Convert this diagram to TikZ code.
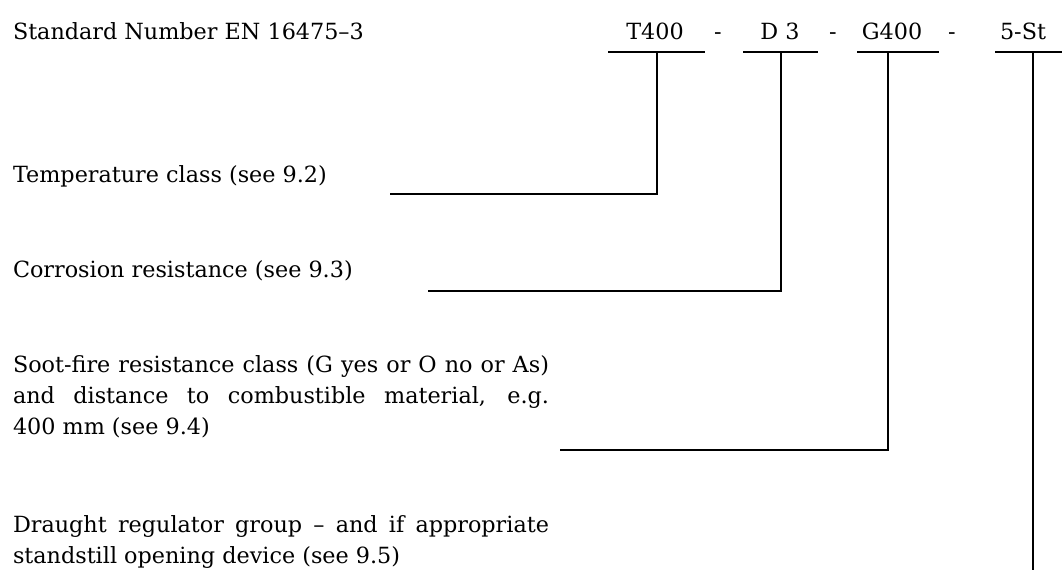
\documentclass[tikz,border=0pt]{standalone}
\usepackage{fontspec}
\setmainfont{DejaVu Serif}
\begin{document}
\begin{tikzpicture}[x=1pt,y=-1pt,
  txt/.style={inner sep=0pt, outer sep=0pt, font=\fontsize{22.3}{31}\selectfont},
  para/.style={txt, text width=536pt, align=justify},
  code/.style={txt, anchor=base},
  rule/.style={line width=2pt},
  leader/.style={line width=2pt}]
\useasboundingbox[fill=white] (0,0) rectangle (1062,570);

% designation string
\node[txt, anchor=base west] (title) at (13,39) {Standard Number EN 16475--3};
\node[code] (t400) at (655,39) {T400};
\node[code] (dash1) at (718,39) {-};
\node[code] (d3) at (780,39) {D 3};
\node[code] (dash2) at (833,39) {-};
\node[code] (g400) at (892,39) {G400};
\node[code] (dash3) at (952,39) {-};
\node[code] (st) at (1023,39) {5-St};

% explanations
\node[txt, anchor=base west] (temp) at (13,182) {Temperature class (see 9.2)};
\node[txt, anchor=base west] (corr) at (13,277) {Corrosion resistance (see 9.3)};
\node[para, anchor=base west] (soot) at (13,372)
  {Soot-fire resistance class (G yes or O no or As)\linebreak
   and distance to combustible material, e.g.\linebreak
   400~mm (see~9.4)};
\node[para, anchor=base west] (draught) at (13,532)
  {Draught regulator group -- and if appropriate\linebreak
   standstill opening device (see~9.5)};

% underlines below each part of the designation
\coordinate (tL) at (608,52);  \coordinate (tR) at (705,52);  \coordinate (tJ) at (657,52);
\coordinate (dL) at (743,52);  \coordinate (dR) at (818,52);  \coordinate (dJ) at (781,52);
\coordinate (gL) at (857,52);  \coordinate (gR) at (939,52);  \coordinate (gJ) at (888,52);
\coordinate (sL) at (995,52);  \coordinate (sR) at (1062,52); \coordinate (sJ) at (1033,52);
\draw[rule] (tL) -- (tR);
\draw[rule] (dL) -- (dR);
\draw[rule] (gL) -- (gR);
\draw[rule] (sL) -- (sR);

% leaders down to the explanations
\coordinate (tE) at (390,194);
\coordinate (dE) at (428,291);
\coordinate (gE) at (560,450);
\coordinate (sE) at (1033,570);
\draw[leader] (tJ) |- (tE);
\draw[leader] (dJ) |- (dE);
\draw[leader] (gJ) |- (gE);
\draw[leader] (sJ) -- (sE);
\end{tikzpicture}
\end{document}
